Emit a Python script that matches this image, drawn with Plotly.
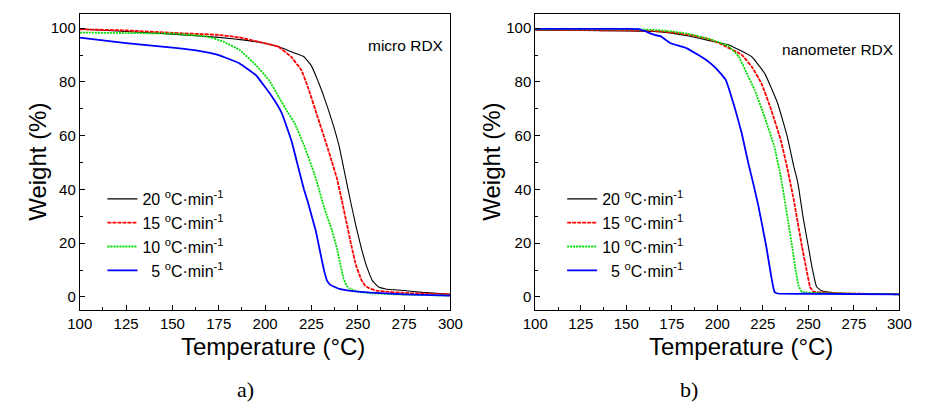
import plotly.graph_objects as go

# ---------------- data ----------------
rates = ["20", "15", "10", "5"]

# micro RDX (panel a)
micro_T20 = [100, 125, 150, 175, 190, 200, 210, 215, 221, 225, 228.3, 231, 234, 237, 240, 243, 246, 249, 252, 255, 258, 261, 265, 275, 285, 300]
micro_W20 = [99.7, 98.8, 97.8, 96.6, 95.5, 94.4, 92.5, 91.0, 89.4, 86.0, 80.8, 76.0, 70.0, 63.5, 56.0, 46.0, 36.0, 26.5, 18.0, 11.0, 6.0, 3.8, 3.0, 2.4, 1.7, 1.0]

micro_T15 = [100, 125, 150, 175, 186, 200, 207, 214, 219.5, 223, 228.3, 233.5, 236, 238.8, 241.4, 244, 246.6, 249, 252, 254, 256.3, 260, 265, 275, 300]
micro_W15 = [99.6, 99.2, 98.3, 97.5, 96.6, 94.4, 93.2, 89.4, 84.5, 78.3, 67.1, 56.0, 50.5, 44.0, 36.0, 27.5, 19.0, 12.0, 6.3, 4.2, 3.2, 2.4, 2.0, 1.5, 1.0]

micro_T10 = [100, 125, 150, 168.8, 177.5, 186.3, 195, 202, 207.3, 212.5, 216, 221.3, 226.5, 228.3, 232, 236, 238.8, 240.5, 242.3, 244, 246, 250, 255, 270, 300]
micro_W10 = [98.4, 98.2, 98.0, 96.9, 95.0, 91.9, 86.3, 80.8, 74.5, 68.4, 64.6, 55.9, 46.0, 42.0, 33.0, 25.0, 18.0, 12.5, 7.0, 4.2, 3.0, 2.0, 1.5, 1.0, 0.5]

micro_T5 = [100, 125, 150, 165, 175, 186, 195, 203.8, 209, 214.3, 218, 221, 223, 225, 227.4, 229.5, 231.8, 233.5, 235.3, 240, 250, 260, 275, 300]
micro_W5 = [96.5, 94.5, 92.8, 91.5, 90.0, 87.0, 82.6, 74.5, 68.4, 58.0, 48.0, 40.0, 35.5, 30.5, 24.5, 17.5, 10.0, 6.0, 4.5, 3.0, 2.0, 1.5, 1.0, 0.5]

# nanometer RDX (panel b)
nano_T20 = [100, 125, 150, 165, 175, 185, 195, 206.4, 218.9, 226, 233.1, 238.4, 242, 243.8, 244.7, 247, 250, 252, 254.5, 257.2, 265, 280, 300]
nano_W20 = [99.3, 99.2, 99.0, 98.8, 98.2, 97.0, 95.5, 93.8, 89.4, 83.2, 72.1, 59.7, 48.5, 43.8, 40.5, 30.0, 18.7, 11.0, 3.8, 2.3, 1.5, 1.2, 1.0]

nano_T15 = [100, 125, 150, 165, 175, 185, 195, 201.1, 213.4, 218.9, 224.2, 229.6, 234.8, 238.4, 240.2, 242, 246.5, 249, 250.9, 252.7, 260, 272, 300]
nano_W15 = [99.4, 99.3, 99.2, 99.0, 98.5, 97.5, 96.0, 94.4, 90.1, 85.7, 79.5, 69.6, 58.4, 48.0, 42.0, 36.0, 18.7, 10.0, 3.8, 2.0, 1.6, 1.3, 1.0]

nano_T10 = [100, 150, 165, 175, 183.3, 197.5, 206.4, 211.8, 217, 220.5, 225.9, 231.3, 234.9, 237, 239, 241.1, 243, 244.7, 246.4, 255, 275, 300]
nano_W10 = [99.6, 99.6, 99.4, 98.8, 98.0, 95.6, 93.2, 89.4, 82.0, 77.0, 67.1, 55.9, 44.5, 36.0, 27.5, 18.7, 10.0, 4.0, 1.9, 1.5, 1.2, 1.0]

nano_T5 = [100, 150, 157, 160, 165.5, 169, 171, 174.4, 183.3, 193.9, 199.3, 204.6, 209.9, 213.4, 217, 219.8, 222.5, 226.9, 229.5, 231.3, 233, 250, 300]
nano_W5 = [99.8, 99.8, 99.7, 99.0, 97.5, 97.0, 96.0, 94.4, 92.5, 88.2, 85.1, 80.8, 69.6, 60.9, 49.8, 42.0, 34.0, 18.7, 8.0, 2.0, 1.3, 1.2, 1.0]

x_ticks = [100, 125, 150, 175, 200, 225, 250, 275, 300]
y_ticks = [0, 20, 40, 60, 80, 100]

# ---------------- styles ----------------
colors = {"20": "#000000", "15": "#ff0000", "10": "#00e000", "5": "#0000ff"}
widths = {"20": 1.1, "15": 1.8, "10": 1.8, "5": 1.8}
dashes = {"20": "solid", "15": "4px,1px", "10": "2px,1px", "5": "solid"}

FONT = "Liberation Sans"

def label(r):
    lead = "\u2007" if len(r) == 1 else ""
    return f"{lead}{r} <sup>o</sup>C·min<sup>-1</sup>"

fig = go.Figure()

panels = [
    ("x", "y", "legend", {"20": (micro_T20, micro_W20), "15": (micro_T15, micro_W15),
                          "10": (micro_T10, micro_W10), "5": (micro_T5, micro_W5)}),
    ("x2", "y2", "legend2", {"20": (nano_T20, nano_W20), "15": (nano_T15, nano_W15),
                             "10": (nano_T10, nano_W10), "5": (nano_T5, nano_W5)}),
]

for xa, ya, leg, series in panels:
    for r in rates:
        T, W = series[r]
        fig.add_trace(go.Scatter(
            x=T, y=W, mode="lines", name=label(r), xaxis=xa, yaxis=ya,
            legend=leg, legendgroup=leg + r,
            line=dict(color=colors[r], width=widths[r], dash=dashes[r], shape="spline", smoothing=0.3),
        ))

W_ = 928
H_ = 403
xdom1 = [68.7 / W_, 450 / W_]
xdom2 = [537.3 / W_, 912 / W_]
ydom = [1 - 310 / H_, 1 - 14 / H_]
yr = [-4.84, 105.3]
xr = [100, 300]

tickfont = dict(family=FONT, size=15, color="black")

def xmain(dom, anchor):
    return dict(domain=dom, anchor=anchor, range=xr, tickmode="array", tickvals=x_ticks,
                ticks="inside", ticklen=5, tickcolor="black", tickwidth=1,
                minor=dict(dtick=12.5, tick0=100, ticks="inside", ticklen=3, tickcolor="black", tickwidth=1),
                showline=True, linecolor="black", linewidth=1, mirror=True,
                showgrid=False, zeroline=False, tickfont=tickfont)

def ymain(anchor):
    return dict(domain=ydom, anchor=anchor, range=yr, tickmode="array", tickvals=y_ticks,
                ticks="inside", ticklen=5, tickcolor="black", tickwidth=1,
                minor=dict(dtick=10, tick0=0, ticks="inside", ticklen=3, tickcolor="black", tickwidth=1),
                showline=True, linecolor="black", linewidth=1, mirror=True,
                showgrid=False, zeroline=False, tickfont=tickfont)

def xtop(over, anchor):
    return dict(overlaying=over, anchor=anchor, side="top", range=xr, tickmode="linear",
                tick0=100, dtick=12.5, ticks="outside", ticklen=3, tickcolor="black",
                showticklabels=False, showgrid=False, zeroline=False, showline=False)

def yright(over, anchor):
    return dict(overlaying=over, anchor=anchor, side="right", range=yr, tickmode="linear",
                tick0=0, dtick=10, ticks="outside", ticklen=3, tickcolor="black",
                showticklabels=False, showgrid=False, zeroline=False, showline=False)

legend_common = dict(font=dict(family=FONT, size=16, color="black"), bgcolor="rgba(0,0,0,0)",
                     borderwidth=0, traceorder="grouped", tracegroupgap=0,
                     xanchor="left", yanchor="top", itemwidth=30)

fig.update_layout(
    width=W_, height=H_, margin=dict(l=0, r=0, t=0, b=0),
    paper_bgcolor="white", plot_bgcolor="white",
    font=dict(family=FONT, color="black"),
    xaxis=xmain(xdom1, "y"), yaxis=ymain("x"),
    xaxis2=xmain(xdom2, "y2"), yaxis2=ymain("x2"),
    xaxis3=xtop("x", "y"), yaxis3=yright("y", "x"),
    xaxis4=xtop("x2", "y2"), yaxis4=yright("y2", "x2"),
    legend=dict(x=92 / W_, y=1 - 182 / H_, **legend_common),
    legend2=dict(x=565 / W_, y=1 - 182 / H_, **legend_common),
    showlegend=True,
)

def ann(text, x, y, size, family=FONT, angle=0, xanchor="center"):
    fig.add_annotation(text=text, x=x / W_, y=1 - y / H_, xref="paper", yref="paper",
                       showarrow=False, font=dict(family=family, size=size, color="black"),
                       textangle=angle, xanchor=xanchor, yanchor="middle")

ann("micro RDX", 404.5, 45.5, 15.5)
ann("nanometer RDX", 849, 49, 15.5)
ann("Weight (%)", 25, 161.5, 24, angle=-90)
ann("Weight (%)", 492, 161.5, 24, angle=-90)
ann("Temperature (°C)", 267, 346, 24)
ann("Temperature (°C)", 749, 346, 24)
ann("a)", 239, 389, 22, family="Liberation Serif")
ann("b)", 695, 389, 22, family="Liberation Serif")

fig.write_html("out.html")
